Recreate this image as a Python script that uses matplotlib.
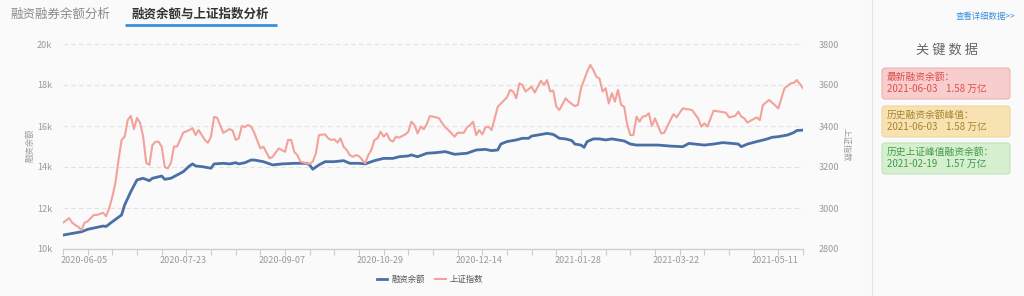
import pandas as pd
import numpy as np
import matplotlib
matplotlib.use('Agg')
import matplotlib.pyplot as plt
from matplotlib.patches import FancyBboxPatch
from matplotlib.lines import Line2D

plt.rcParams['font.family'] = ['Noto Sans CJK SC', 'DejaVu Sans']

# trading calendar (A-share), used as category axis
holidays = ['2020-06-25', '2020-06-26', '2020-10-01', '2020-10-02', '2020-10-05',
            '2020-10-06', '2020-10-07', '2020-10-08', '2021-01-01', '2021-02-11',
            '2021-02-12', '2021-02-15', '2021-02-16', '2021-02-17', '2021-04-05',
            '2021-05-03', '2021-05-04', '2021-05-05']
trade_days = pd.bdate_range('2020-05-27', '2021-05-24')
trade_days = trade_days[~trade_days.isin(pd.to_datetime(holidays))]

date_labels = ['2020-06-05', '2020-07-23', '2020-09-07', '2020-10-29',
               '2020-12-14', '2021-01-28', '2021-03-22', '2021-05-11']

# 融资余额 (亿元), sampled by trading-day number
margin_day = [0, 6, 8, 13, 14, 16, 19, 20, 22, 24, 26, 28, 29, 32, 33, 35, 39, 41, 42, 43,
              45, 48, 49, 52, 54, 56, 57, 59, 61, 62, 65, 68, 71, 75, 79, 80, 81, 83, 85, 88,
              91, 93, 96, 98, 101, 104, 107, 109, 112, 113, 115, 118, 121, 124, 127, 131, 134,
              137, 139, 141, 142, 144, 147, 149, 151, 152, 154, 157, 159, 161, 163, 165, 166,
              168, 169, 170, 172, 174, 176, 178, 182, 184, 186, 189, 193, 197, 201, 203, 208,
              211, 214, 217, 219, 220, 222, 225, 228, 230, 232, 235, 237, 238, 240]
margin_val = [10680, 10840, 10960, 11120, 11100, 11330, 11660, 12150, 12800, 13370, 13450,
              13330, 13450, 13560, 13400, 13450, 13770, 14050, 14150, 14050, 14020, 13940,
              14150, 14180, 14150, 14210, 14150, 14210, 14340, 14340, 14260, 14100, 14150,
              14180, 14180, 14100, 13890, 14100, 14260, 14260, 14310, 14180, 14180, 14150,
              14310, 14420, 14420, 14500, 14540, 14590, 14500, 14670, 14700, 14750, 14620,
              14670, 14830, 14860, 14800, 14830, 15120, 15240, 15320, 15400, 15400, 15510,
              15560, 15640, 15590, 15400, 15370, 15290, 15120, 15070, 14960, 15240, 15370,
              15370, 15320, 15370, 15270, 15120, 15070, 15070, 15070, 15020, 14990, 15150,
              15070, 15120, 15190, 15150, 15120, 14990, 15120, 15240, 15350, 15450, 15480,
              15560, 15680, 15780, 15800]

# 上证指数
sh_day = [0, 2, 3, 4, 5, 6, 7, 8, 10, 11, 13, 14, 15, 16, 17, 18, 19, 20, 21, 22, 23, 24,
          25, 26, 27, 28, 29, 30, 31, 32, 33, 34, 35, 36, 37, 39, 41, 42, 43, 44, 46, 47, 48,
          49, 50, 52, 54, 55, 56, 57, 58, 59, 60, 61, 62, 64, 65, 67, 68, 70, 72, 73, 74, 75,
          76, 77, 79, 80, 81, 82, 83, 85, 86, 87, 88, 89, 90, 91, 92, 93, 94, 95, 96, 98, 99,
          100, 101, 102, 103, 104, 105, 106, 107, 108, 109, 111, 112, 113, 114, 115, 116, 117,
          118, 119, 121, 122, 123, 124, 125, 127, 128, 130, 131, 132, 133, 134, 135, 136, 137,
          138, 139, 140, 141, 144, 145, 146, 147, 148, 149, 150, 152, 153, 155, 156, 157, 158,
          159, 160, 161, 163, 164, 166, 167, 168, 170, 171, 172, 173, 174, 175, 176, 177, 178,
          179, 180, 181, 182, 183, 184, 185, 186, 187, 188, 189, 190, 191, 192, 193, 194, 195,
          197, 198, 199, 201, 203, 204, 206, 207, 208, 209, 211, 213, 215, 216, 218, 219, 220,
          221, 222, 223, 225, 226, 227, 229, 230, 232, 234, 236, 237, 238, 239, 240]
sh_val = [2928, 2951, 2928, 2917, 2907, 2893, 2928, 2935, 2966, 2966, 2977, 2960, 3000, 3055,
          3122, 3234, 3332, 3348, 3430, 3449, 3385, 3439, 3415, 3348, 3220, 3210, 3307, 3323,
          3323, 3300, 3200, 3193, 3220, 3300, 3300, 3368, 3380, 3390, 3356, 3380, 3332, 3318,
          3348, 3444, 3440, 3366, 3385, 3378, 3332, 3340, 3400, 3395, 3405, 3397, 3368, 3291,
          3299, 3242, 3250, 3291, 3274, 3332, 3332, 3274, 3258, 3226, 3218, 3215, 3226, 3266,
          3356, 3359, 3340, 3332, 3335, 3319, 3340, 3299, 3283, 3258, 3250, 3258, 3253, 3218,
          3258, 3283, 3332, 3340, 3372, 3348, 3364, 3332, 3324, 3348, 3343, 3359, 3372, 3421,
          3405, 3364, 3397, 3384, 3410, 3449, 3442, 3437, 3413, 3393, 3380, 3348, 3367, 3367,
          3393, 3405, 3421, 3356, 3380, 3359, 3393, 3397, 3380, 3437, 3494, 3540, 3576, 3568,
          3535, 3608, 3600, 3568, 3592, 3563, 3621, 3600, 3624, 3568, 3573, 3494, 3478, 3535,
          3519, 3497, 3503, 3584, 3665, 3698, 3673, 3640, 3632, 3568, 3584, 3510, 3560, 3519,
          3576, 3503, 3494, 3405, 3356, 3356, 3446, 3421, 3446, 3449, 3462, 3400, 3437, 3400,
          3364, 3367, 3429, 3458, 3442, 3486, 3481, 3478, 3437, 3397, 3413, 3397, 3475, 3470,
          3465, 3442, 3449, 3470, 3446, 3437, 3416, 3426, 3442, 3429, 3502, 3527, 3514, 3486,
          3584, 3608, 3610, 3624, 3605, 3584]

left_ticks = [10000, 12000, 14000, 16000, 18000, 20000]
left_labels = ['10k', '12k', '14k', '16k', '18k', '20k']
right_ticks = [2800, 3000, 3200, 3400, 3600, 3800]

blue = '#4a6fa5'
red = '#f3a29b'
txt = '#9a9a9a'

fig = plt.figure(figsize=(10.24, 2.96), dpi=100)
fig.patch.set_facecolor('#fafafa')

# overlay in pixel units for the page decorations
bg = fig.add_axes([0, 0, 1, 1])
bg.set_xlim(0, 1024)
bg.set_ylim(296, 0)
bg.axis('off')

bg.text(10, 14, '融资融券余额分析', fontsize=9, color='#8a8a8a', va='center')
bg.text(131, 14, '融资余额与上证指数分析', fontsize=9, color='#333333', va='center',
        fontweight='bold')
bg.plot([125, 277], [25, 25], color='#3b8fdc', lw=2, solid_capstyle='butt')

bg.plot([872, 872], [0, 296], color='#e4e4e4', lw=0.8)
bg.text(1015, 17, '查看详细数据>>', fontsize=6, color='#3b8fdc', ha='right', va='center')
bg.text(947, 50, '关 键 数 据', fontsize=9.5, color='#666666', ha='center', va='center')

boxes = [
    (68, '#f8cdcd', '#efb3b3', '#de4f4a', '最新融资余额：', '2021-06-03    1.58 万亿'),
    (106, '#f7e3b2', '#eed7a0', '#a8822e', '历史融资余额峰值：', '2021-06-03    1.58 万亿'),
    (143, '#d6f0cf', '#bfe2b8', '#3f9a46', '历史上证峰值融资余额：', '2021-02-19    1.57 万亿'),
]
for top, fc, ec, tc, line1, line2 in boxes:
    bg.add_patch(FancyBboxPatch((884, top + 2), 124, 27,
                                boxstyle='round,pad=2,rounding_size=3',
                                fc=fc, ec=ec, lw=0.8))
    bg.text(887, top + 9, line1, fontsize=7, color=tc, va='center')
    bg.text(887, top + 21, line2, fontsize=7, color=tc, va='center')

# main chart
ax = fig.add_axes([63 / 1024, 47 / 296, 740 / 1024, 205 / 296])
ax.set_facecolor('none')
ax2 = ax.twinx()

ax.plot(margin_day, margin_val, color=blue, lw=2, zorder=3)
ax2.plot(sh_day, sh_val, color=red, lw=1.5)

ax.set_xlim(0, len(trade_days) - 1)
ax.set_ylim(10000, 20000)
ax2.set_ylim(2800, 3800)

ax.set_yticks(left_ticks, left_labels)
ax2.set_yticks(right_ticks, [str(v) for v in right_ticks])
ax.yaxis.grid(True, linestyle=(0, (4, 3)), color='#e2e2e2', lw=0.8)

ax.set_xticks(np.arange(0, len(trade_days), 8))
ax.set_xticklabels([])
label_pos = [trade_days.get_loc(pd.Timestamp(d)) for d in date_labels]
ax.set_xticks(label_pos, date_labels, minor=True)
ax.tick_params(axis='x', which='major', length=4, color='#cccccc', width=0.8)
ax.tick_params(axis='x', which='minor', length=0, pad=5, labelsize=6.5, labelcolor=txt)
ax.tick_params(axis='y', length=0, pad=8, labelsize=6.5, labelcolor=txt)
ax2.tick_params(axis='y', length=0, pad=11, labelsize=6.5, labelcolor=txt)

for a in (ax, ax2):
    for s in ('top', 'left', 'right'):
        a.spines[s].set_visible(False)
    a.spines['bottom'].set_color('#cccccc')
    a.spines['bottom'].set_linewidth(0.8)

bg.text(30, 145, '融资余额', fontsize=6, color=txt, rotation=90, ha='center', va='center')
bg.text(846, 145, '上证指数', fontsize=6, color=txt, rotation=-90, ha='center', va='center')

handles = [Line2D([], [], color=blue, lw=2), Line2D([], [], color=red, lw=1.5)]
fig.legend(handles, ['融资余额', '上证指数'], loc='center', bbox_to_anchor=(430 / 1024, 1 - 279 / 296),
           ncol=2, frameon=False, fontsize=6, handlelength=1.3, columnspacing=1.2,
           handletextpad=0.5, labelcolor='#555555')

fig.savefig('out.png', dpi=100, facecolor=fig.get_facecolor())
